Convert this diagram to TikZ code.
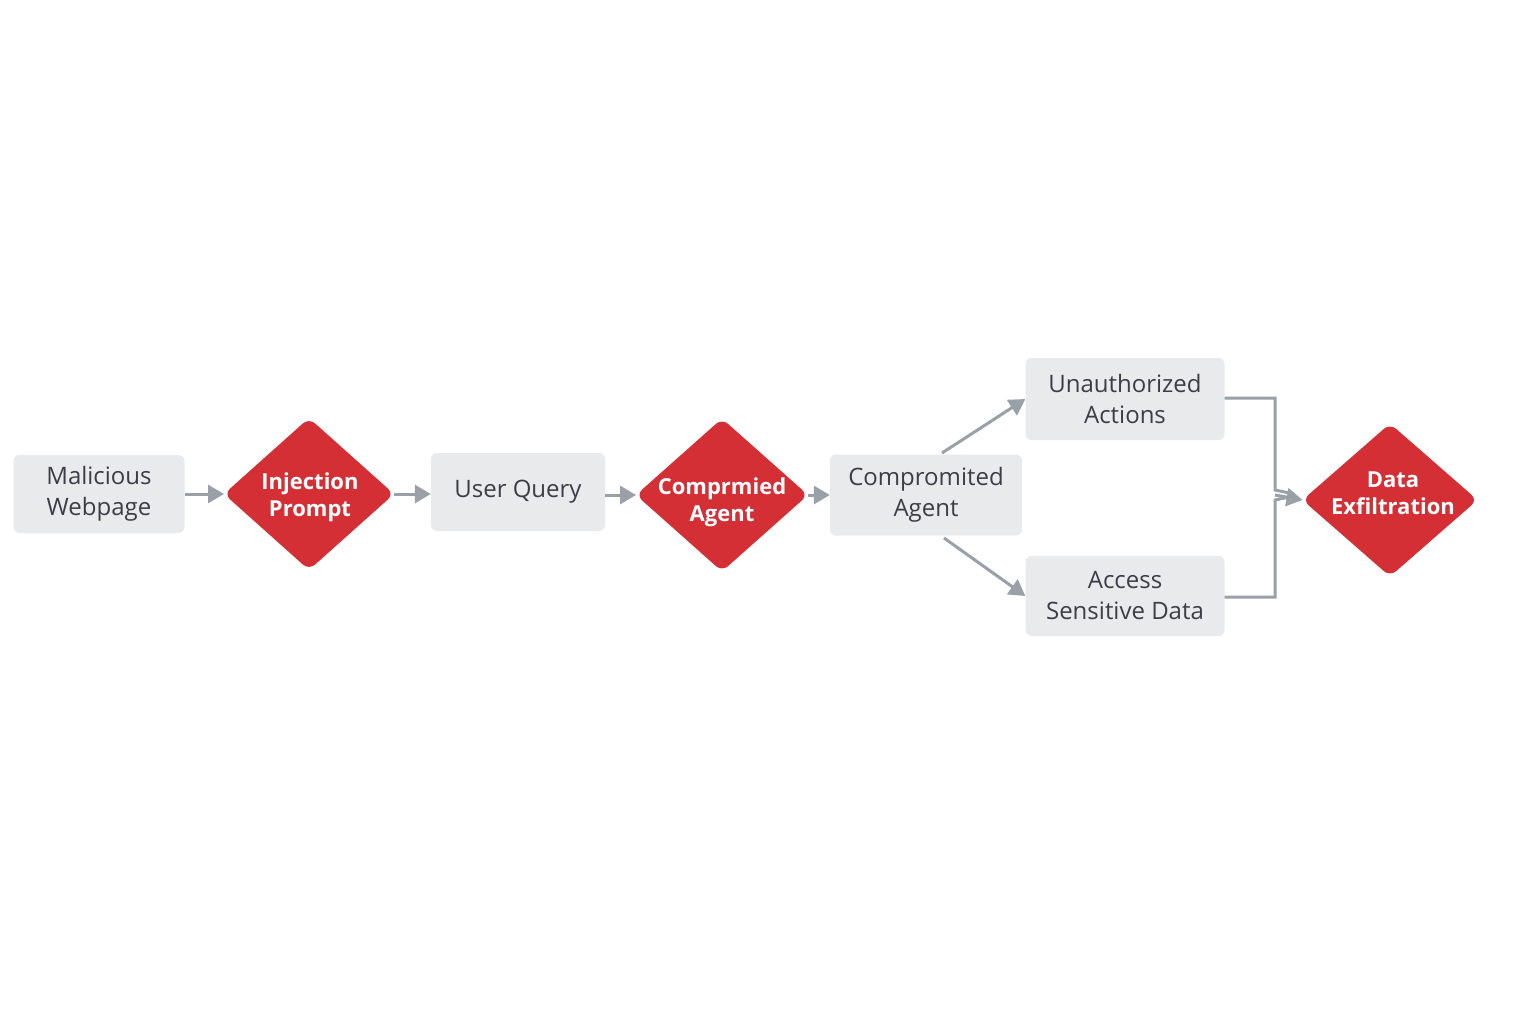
\documentclass[tikz,border=0pt]{standalone}
\usepackage{fontspec}
\setmainfont{Open Sans}
\usetikzlibrary{shapes.geometric,arrows.meta}
\definecolor{boxfill}{HTML}{E9EAEC}
\definecolor{redfill}{HTML}{D32F35}
\definecolor{txt}{HTML}{3A3F47}
\definecolor{arr}{HTML}{9AA0A8}
\tikzset{
  x=1pt,y=-1pt,
  graybox/.style={rectangle,rounded corners=6pt,fill=boxfill,text=txt,align=center,
    font=\fontsize{24}{31}\selectfont,inner sep=0pt},
  reddia/.style={diamond,rounded corners=8pt,fill=redfill,inner sep=0pt,outer sep=0pt},
  diatext/.style={text=white,align=center,font=\fontsize{22}{27}\selectfont\bfseries,inner sep=0pt},
  flow/.style={draw=arr,line width=3pt,-{Triangle[length=16pt,width=18pt]}},
  link/.style={draw=arr,line width=3pt}
}
\begin{document}
\begin{tikzpicture}
\useasboundingbox[fill=white] (0,0) rectangle (1536,1024);
\node[graybox,minimum width=171pt,minimum height=78pt] (mw) at (99,494) {Malicious\\Webpage};
\node[reddia,minimum width=170pt,minimum height=152pt] (ip) at (309,494) {};
\node[diatext] at (310,497) {Injection\\Prompt};
\node[graybox,minimum width=174pt,minimum height=78pt] (uq) at (518,492) {User Query};
\node[reddia,minimum width=172pt,minimum height=153pt] (ca) at (722,495) {};
\node[diatext] at (722,502) {Comprmied\\Agent};
\node[graybox,minimum width=192pt,minimum height=81pt] (cb) at (926,495) {Compromited\\Agent};
\node[graybox,minimum width=199pt,minimum height=82pt] (ua) at (1125,399) {Unauthorized\\Actions};
\node[graybox,minimum width=199pt,minimum height=80pt] (sd) at (1125,596) {Access\\Sensitive Data};
\node[reddia,minimum width=175pt,minimum height=153pt] (de) at (1390,500) {};
\node[diatext] at (1393,493) {Data\\Exfiltration};
\coordinate (jn) at (1275,495);
\coordinate (ua1) at (1275,398);
\coordinate (sd1) at (1275,597);
\coordinate (cbu) at (942,453);
\coordinate (cbd) at (944,538);
\draw[flow] (mw.east) -- (mw.east -| ip.west);
\draw[flow] (ip.east) -- (ip.east -| uq.west);
\draw[flow] (uq.east |- ca.west) -- (ca.west);
\draw[flow] (ca.east) -- (ca.east -| cb.west);
\draw[flow] (cbu) -- (ua.west);
\draw[flow] (cbd) -- (sd.west);
\draw[link,line join=miter] (ua.east |- ua1) -- (ua1) -- (1275,490) -- (1294,494);
\draw[link,line join=miter] (sd.east |- sd1) -- (sd1) -- (1275,500) -- (1294,496);
\draw[flow] (jn) -- (de.west);
\end{tikzpicture}
\end{document}
